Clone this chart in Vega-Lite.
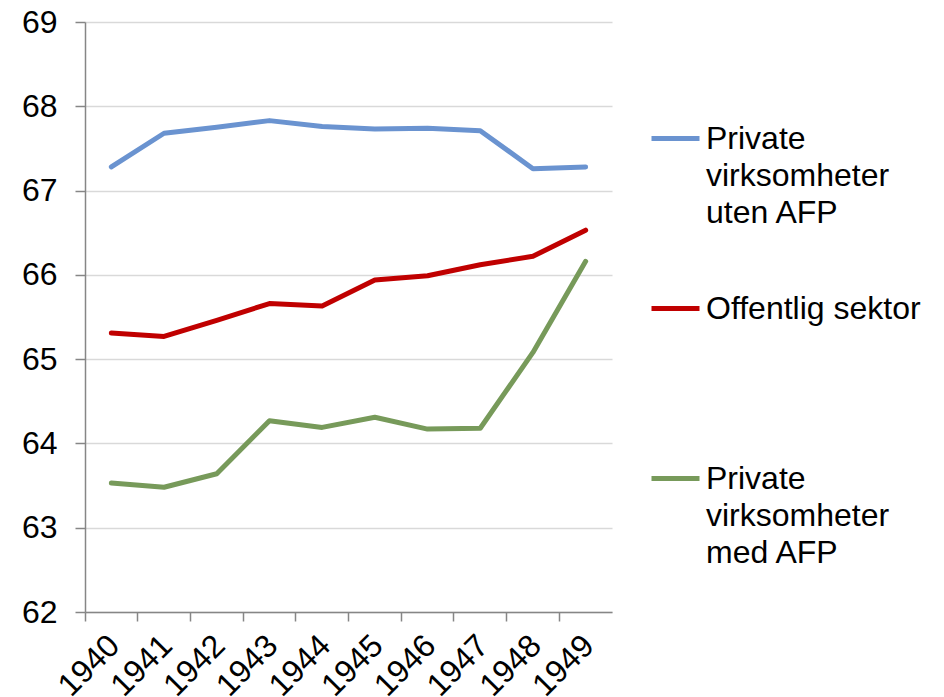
{
  "$schema": "https://vega.github.io/schema/vega-lite/v6.json",
  "width": 527,
  "height": 590,
  "autosize": {"type": "none"},
  "padding": {"left": 85, "top": 22, "right": 332, "bottom": 85},
  "background": "white",
  "config": {
    "font": "Liberation Sans",
    "view": {"stroke": null}
  },
  "data": {
    "values": [
      {"year": "1940", "series": "Private virksomheter uten AFP", "value": 67.28},
      {"year": "1941", "series": "Private virksomheter uten AFP", "value": 67.68},
      {"year": "1942", "series": "Private virksomheter uten AFP", "value": 67.75},
      {"year": "1943", "series": "Private virksomheter uten AFP", "value": 67.83},
      {"year": "1944", "series": "Private virksomheter uten AFP", "value": 67.76},
      {"year": "1945", "series": "Private virksomheter uten AFP", "value": 67.73},
      {"year": "1946", "series": "Private virksomheter uten AFP", "value": 67.74},
      {"year": "1947", "series": "Private virksomheter uten AFP", "value": 67.71},
      {"year": "1948", "series": "Private virksomheter uten AFP", "value": 67.26},
      {"year": "1949", "series": "Private virksomheter uten AFP", "value": 67.28},
      {"year": "1940", "series": "Offentlig sektor", "value": 65.31},
      {"year": "1941", "series": "Offentlig sektor", "value": 65.27},
      {"year": "1942", "series": "Offentlig sektor", "value": 65.46},
      {"year": "1943", "series": "Offentlig sektor", "value": 65.66},
      {"year": "1944", "series": "Offentlig sektor", "value": 65.63},
      {"year": "1945", "series": "Offentlig sektor", "value": 65.94},
      {"year": "1946", "series": "Offentlig sektor", "value": 65.99},
      {"year": "1947", "series": "Offentlig sektor", "value": 66.12},
      {"year": "1948", "series": "Offentlig sektor", "value": 66.22},
      {"year": "1949", "series": "Offentlig sektor", "value": 66.53},
      {"year": "1940", "series": "Private virksomheter med AFP", "value": 63.53},
      {"year": "1941", "series": "Private virksomheter med AFP", "value": 63.48},
      {"year": "1942", "series": "Private virksomheter med AFP", "value": 63.64},
      {"year": "1943", "series": "Private virksomheter med AFP", "value": 64.27},
      {"year": "1944", "series": "Private virksomheter med AFP", "value": 64.19},
      {"year": "1945", "series": "Private virksomheter med AFP", "value": 64.31},
      {"year": "1946", "series": "Private virksomheter med AFP", "value": 64.17},
      {"year": "1947", "series": "Private virksomheter med AFP", "value": 64.18},
      {"year": "1948", "series": "Private virksomheter med AFP", "value": 65.08},
      {"year": "1949", "series": "Private virksomheter med AFP", "value": 66.16}
    ]
  },
  "mark": {"type": "line", "strokeWidth": 5, "strokeCap": "round", "strokeJoin": "round"},
  "encoding": {
    "x": {
      "field": "year",
      "type": "ordinal",
      "scale": {"type": "band", "paddingInner": 0, "paddingOuter": 0},
      "axis": {
        "title": null,
        "bandPosition": 0,
        "labelAngle": -45,
        "labelAlign": "right",
        "labelBaseline": "middle",
        "labelFontSize": 32,
        "labelColor": "black",
        "labelPadding": 19,
        "labelOffset": 3,
        "tickSize": 9,
        "tickColor": "#868686",
        "domainColor": "#868686",
        "domainWidth": 1.5,
        "tickWidth": 1.5,
        "grid": false
      }
    },
    "y": {
      "field": "value",
      "type": "quantitative",
      "scale": {"domain": [62, 69], "nice": false, "zero": false},
      "axis": {
        "title": null,
        "values": [62, 63, 64, 65, 66, 67, 68, 69],
        "labelFontSize": 32,
        "labelColor": "black",
        "labelPadding": 18,
        "tickSize": 10,
        "tickColor": "#868686",
        "domainColor": "#868686",
        "domainWidth": 1.5,
        "tickWidth": 1.5,
        "gridColor": "#d9d9d9",
        "gridWidth": 1.5
      }
    },
    "color": {
      "field": "series",
      "type": "nominal",
      "scale": {
        "domain": ["Private virksomheter uten AFP", "Offentlig sektor", "Private virksomheter med AFP"],
        "range": ["#6a93d0", "#c00000", "#779a5a"]
      },
      "legend": {
        "title": null,
        "orient": "none",
        "legendX": 564,
        "legendY": 90,
        "symbolType": "stroke",
        "symbolSize": 2304,
        "symbolStrokeWidth": 5,
        "labelFontSize": 32,
        "labelColor": "black",
        "labelOffset": 4,
        "labelLimit": 400,
        "rowPadding": 53,
        "labelExpr": "datum.value == 'Private virksomheter uten AFP' ? ['Private', 'virksomheter', 'uten AFP'] : datum.value == 'Private virksomheter med AFP' ? ['Private', 'virksomheter', 'med AFP'] : ['Offentlig sektor', ' ', ' ']",
        "encode": {"labels": {"update": {"lineHeight": {"value": 37}}}}
      }
    }
  }
}
